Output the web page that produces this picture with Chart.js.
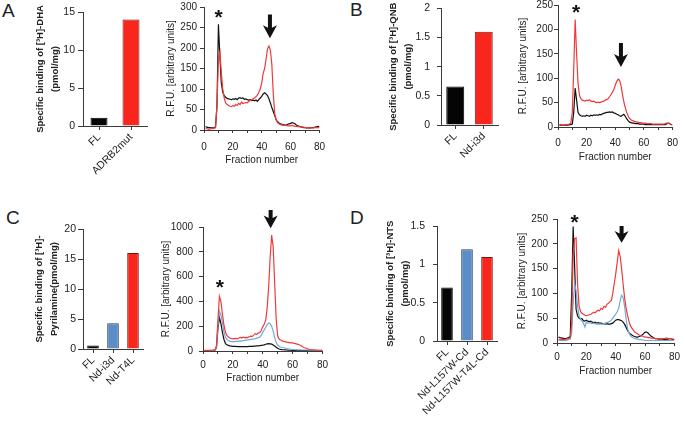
<!DOCTYPE html>
<html><head><meta charset="utf-8">
<script src="https://cdn.jsdelivr.net/npm/chart.js@4.4.1/dist/chart.umd.min.js"></script>
<style>
html,body{margin:0;padding:0;background:#fff;width:685px;height:428px;overflow:hidden;position:relative;font-family:"Liberation Sans",Arial,sans-serif}
canvas{position:absolute}
.lbl{position:absolute;font-size:19px;color:#222;line-height:1}
</style></head><body>
<div class="lbl" style="left:2px;top:1px">A</div>
<div class="lbl" style="left:350px;top:0px">B</div>
<div class="lbl" style="left:6px;top:208px">C</div>
<div class="lbl" style="left:350px;top:208px">D</div>
<canvas id="aBar"></canvas><canvas id="aLine"></canvas>
<canvas id="bBar"></canvas><canvas id="bLine"></canvas>
<canvas id="cBar"></canvas><canvas id="cLine"></canvas>
<canvas id="dBar"></canvas><canvas id="dLine"></canvas>
<script>
// ---------- DATA ----------
const barCatsA = ['FL', 'ADRB2mut'];
const barValsA = [1.1, 14];
const barCatsB = ['FL', 'Nd-i3d'];
const barValsB = [0.66, 1.6];
const barCatsC = ['FL', 'Nd-i3d', 'Nd-T4L'];
const barValsC = [0.6, 4.3, 16];
const barCatsD = ['FL', 'Nd-L157W-Cd', 'Nd-L157W-T4L-Cd'];
const barValsD = [0.7, 1.2, 1.1];

const fractions = [1,2,3,4,5,6,7,8,9,10,11,12,13,14,15,16,17,18,19,20,21,22,23,24,25,26,27,28,29,30,31,32,33,34,35,36,37,38,39,40,41,42,43,44,45,46,47,48,49,50,51,52,53,54,55,56,57,58,59,60,61,62,63,64,65,66,67,68,69,70,71,72,73,74,75,76,77,78,79,80];

const aBlack = [8,7,6,6,5,5,6,8,60,258, 180,115,92,84,80,77,76,75,74,76, 75,77,74,78,79,77,78,75,76,74, 73,74,72,73,71,73,70,74,78,82, 88,91,88,84,76,66,55,45,35,25, 20,17,15,14,13,12,12,14,15,16, 18,17,15,12,10,9,8,7,6,6, 5,5,5,5,6,6,7,8,9,7];
const aRed = [3,3,2,2,3,3,4,6,60,175, 190,140,100,78,66,62,60,58,57,60, 58,62,60,65,62,68,64,66,67,66, 70,72,73,76,78,81,85,92,100,115, 138,150,172,198,205,195,160,90,40,25, 18,15,13,12,12,11,11,10,10,10, 11,10,9,9,8,8,7,7,7,6, 6,6,5,5,5,5,6,6,5,6];

const bBlack = [4,4,4,4,4,4,4,5,5,6, 30,80,55,30,25,23,22,23,22,24, 23,22,24,23,25,24,25,24,26,25, 27,28,29,30,30,31,30,31,29,28, 26,25,23,22,24,26,22,17,13,10, 9,8,8,7,7,7,6,6,6,6, 5,5,5,5,5,5,5,5,5,5, 5,5,5,5,5,6,8,7,5,4];
const bRed = [5,5,4,4,5,5,5,6,8,30, 120,220,150,90,65,58,55,54,53,55, 54,56,53,52,53,51,50,51,50,51, 52,53,55,56,58,62,66,71,77,85, 93,98,96,86,68,52,40,30,23,18, 15,13,12,11,10,10,9,9,8,8, 8,7,7,7,7,6,6,6,6,6, 6,6,6,6,7,8,8,7,5,4];

const cBlack = [3,3,3,3,4,4,5,7,25,180, 270,220,150,95,62,50,45,42,40,38, 37,37,36,36,35,35,35,35,36,36, 37,37,38,39,40,41,42,43,45,47, 50,54,58,60,58,55,48,40,30,22, 16,13,11,10,9,8,7,6,6,5, 5,5,5,4,4,4,4,4,4,4, 4,3,3,3,3,3,3,3,3,3];
const cBlue = [4,4,4,4,5,5,6,8,30,200, 320,290,230,155,112,92,85,80,76,75, 76,78,77,80,82,80,84,86,88,90, 92,94,96,98,100,104,108,112,125,150, 170,190,212,226,220,200,160,110,70,48, 38,32,28,26,24,20,17,15,13,12, 10,10,9,9,9,8,8,8,8,8, 7,7,6,6,6,6,5,5,5,5];
const cRed = [5,5,5,5,6,6,8,10,40,250, 440,400,300,210,155,125,112,105,100,98, 100,102,98,105,110,104,112,106,110,108, 115,120,118,128,140,135,145,148,165,195, 215,250,350,520,760,935,840,550,260,120, 95,88,82,78,75,72,70,68,66,65, 62,60,56,52,46,40,32,26,22,18, 14,12,10,9,8,7,6,6,5,5];

const dBlack = [12,11,10,10,9,9,10,11,13,100, 235,155,68,55,50,48,49,45,44,46, 44,43,44,42,41,42,40,41,40,40, 39,39,38,39,38,38,39,40,43,46, 47,47,46,45,42,38,32,26,21,18, 16,14,13,12,12,13,14,16,19,22, 22,20,17,14,12,10,9,9,8,8, 8,8,7,7,8,8,9,8,7,7];
const dBlue = [5,5,5,5,5,5,6,7,8,20, 80,120,105,75,55,48,44,40,32,42, 40,41,40,39,40,39,38,38,38,38, 38,39,40,41,42,44,46,50,54,58, 63,70,85,96,92,75,50,30,20,15, 12,10,9,8,8,7,7,6,6,5, 5,5,5,5,5,5,5,5,5,5, 5,5,5,5,5,5,5,5,5,5];
const dRed = [8,8,7,7,7,8,8,9,10,40, 180,210,212,120,76,63,60,58,56,55, 56,57,58,60,62,61,64,66,65,70, 68,74,72,78,80,83,86,100,120,140, 162,186,175,150,120,92,72,56,44,35, 30,26,22,20,18,16,15,14,13,12, 12,11,11,10,10,10,9,9,9,8, 8,9,9,10,10,9,9,8,8,8];

// ---------- STYLE ----------
const FAM = '"Liberation Sans", Arial, sans-serif';
const AX = '#3a3a3a', TXT = '#222';
const C_BLACK = '#111111', C_RED = '#f03a3a', C_BLUE = '#74a9d4';
const BAR_FILL = {black:'#050505', red:'#f8261c', blue:'#5b8ec6'};
const BAR_EDGE = {black:'#000', red:'#6e1a12', blue:'#2c3c55'};

const marksPlugin = {
  id: 'marks',
  afterDraw(chart, args, opts) {
    const {ctx} = chart; const x = chart.scales.x, y = chart.scales.y;
    ctx.save();
    ctx.fillStyle = '#111';
    if (opts.star) {
      const px = x.getPixelForValue(opts.star[0]), py = y.getPixelForValue(opts.star[1]);
      ctx.font = 'bold 21px ' + FAM; ctx.textAlign = 'center'; ctx.textBaseline = 'alphabetic';
      ctx.fillText('*', px, py + 12);
    }
    if (opts.arrow) {
      const px = x.getPixelForValue(opts.arrow[0]);
      const top = y.getPixelForValue(opts.arrow[1]), bot = y.getPixelForValue(opts.arrow[2]);
      const h = bot - top, hh = Math.min(13, h * 0.7), hw = 14, sw = 4, notch = 2.5;
      ctx.beginPath();
      ctx.moveTo(px - sw/2, top); ctx.lineTo(px + sw/2, top);
      ctx.lineTo(px + sw/2, bot - hh + notch); ctx.lineTo(px + hw/2, bot - hh);
      ctx.lineTo(px, bot); ctx.lineTo(px - hw/2, bot - hh);
      ctx.lineTo(px - sw/2, bot - hh + notch); ctx.closePath(); ctx.fill();
    }
    ctx.restore();
  }
};

function place(id, box) {
  const cv = document.getElementById(id);
  const left = box.L - box.yW, top = box.T - box.padT;
  cv.width = box.R + box.padR - left; cv.height = box.B + box.xH - top;
  cv.style.left = left + 'px'; cv.style.top = top + 'px';
  return cv;
}

const plain = v => String(v);

function barChart(id, box, cats, vals, colors, yMax, yStep, title, barPct) {
  const cv = place(id, box);
  new Chart(cv, {
    type: 'bar',
    data: { labels: cats, datasets: [{ data: vals,
      backgroundColor: colors.map(c => BAR_FILL[c]), borderColor: colors.map(c => BAR_EDGE[c]),
      borderWidth: 1, barPercentage: barPct, categoryPercentage: 1 }] },
    options: {
      responsive: false, animation: false, devicePixelRatio: 1,
      layout: { padding: { top: box.padT, right: box.padR, left: 0, bottom: 0 } },
      plugins: { legend: { display: false }, tooltip: { enabled: false } },
      scales: {
        x: { offset: true,
          grid: { offset: false, drawOnChartArea: false, drawTicks: true, tickLength: 4, color: AX },
          border: { color: AX, width: 1 },
          ticks: { minRotation: 45, maxRotation: 45, autoSkip: false, padding: 1, color: TXT, font: { size: 10.5, family: FAM } },
          afterFit: s => { s.height = box.xH; } },
        y: { min: 0, max: yMax,
          grid: { drawOnChartArea: false, drawTicks: true, tickLength: box.tl, color: AX },
          border: { color: AX, width: 1 },
          ticks: { stepSize: yStep, padding: box.tp, color: TXT, font: { size: 10.5, family: FAM }, callback: plain },
          title: { display: true, text: title, color: TXT, padding: { top: 4.4, bottom: 0 },
            font: { size: 9.5, weight: 'bold', family: FAM, lineHeight: 1.62 } },
          afterFit: s => { s.width = box.yW; } }
      }
    }
  });
}

function lineChart(id, box, series, yMax, yStep, marks) {
  const cv = place(id, box);
  new Chart(cv, {
    type: 'line',
    data: { datasets: series.map(s => ({ data: fractions.map((f, i) => ({ x: f, y: s.vals[i] })),
      borderColor: s.color, borderWidth: 1.2, pointRadius: 0, tension: 0, fill: false })) },
    options: {
      responsive: false, animation: false, devicePixelRatio: 1,
      layout: { padding: { top: box.padT, right: box.padR, left: 0, bottom: 0 } },
      plugins: { legend: { display: false }, tooltip: { enabled: false }, marks: marks },
      scales: {
        x: { type: 'linear', min: 0, max: 80,
          grid: { drawOnChartArea: false, drawTicks: true, tickLength: 3, color: AX },
          border: { color: AX, width: 1 },
          ticks: { stepSize: 10, autoSkip: false, maxRotation: 0, padding: box.xp, color: TXT,
            font: { size: 10, family: FAM }, callback: v => (v % 20 === 0 ? String(v) : '') },
          title: { display: true, text: 'Fraction number', color: TXT, padding: { top: 0, bottom: 2 },
            font: { size: 10, family: FAM, lineHeight: 1.2 } },
          afterFit: s => { s.height = box.xH; } },
        y: { min: 0, max: yMax,
          grid: { drawOnChartArea: false, drawTicks: true, tickLength: 4, color: AX },
          border: { color: AX, width: 1 },
          ticks: { stepSize: yStep, padding: box.tp, color: TXT, font: { size: 10, family: FAM }, callback: plain },
          title: { display: true, text: 'R.F.U. [arbitrary units]', color: TXT, padding: { top: 5, bottom: 0 },
            font: { size: 10, family: FAM, lineHeight: 1.2 } },
          afterFit: s => { s.width = box.yW; } }
      }
    },
    plugins: [marksPlugin]
  });
}

// ---------- PANELS ----------
barChart('aBar', {L:83, T:12, R:147, B:126, yW:55, padT:10, padR:6, xH:62, tl:5, tp:3},
  barCatsA, barValsA, ['black','red'], 15, 5, ['Specific binding of [³H]-DHA', '(pmol/mg)'], 0.53);
barChart('bBar', {L:441, T:5, R:498, B:125, yW:60, padT:10, padR:6, xH:62, tl:4, tp:7},
  barCatsB, barValsB, ['black','red'], 2, 0.5, ['Specific binding of [³H]-QNB', '(pmol/mg)'], 0.63);
barChart('cBar', {L:83, T:229, R:143, B:349, yW:56, padT:10, padR:6, xH:79, tl:5, tp:2},
  barCatsC, barValsC, ['black','blue','red'], 20, 5, ['Specific binding of [³H]-', 'Pyrilamine(pmol/mg)'], 0.58);
barChart('dBar', {L:437, T:222, R:497, B:341, yW:59, padT:10, padR:6, xH:87, tl:4, tp:8},
  barCatsD, barValsD, ['black','blue','red'], 1.5, 0.5, ['Specific binding of [³H]-NTS', '(pmol/mg)'], 0.58);

lineChart('aLine', {L:204, T:7, R:323, B:130, yW:44, padT:10, padR:10, xH:38, tp:3, xp:8},
  [{vals: aRed, color: C_RED}, {vals: aBlack, color: C_BLACK}], 300, 50,
  {star: [10.1, 288], arrow: [45.7, 282, 224]});
lineChart('bLine', {L:558, T:5, R:678, B:127, yW:46, padT:10, padR:7, xH:38, tp:1, xp:7},
  [{vals: bRed, color: C_RED}, {vals: bBlack, color: C_BLACK}], 250, 50,
  {star: [12.7, 246], arrow: [44, 172, 123]});
lineChart('cLine', {L:203, T:227, R:323, B:351, yW:48, padT:20, padR:10, xH:35, tp:6, xp:5},
  [{vals: cRed, color: C_RED}, {vals: cBlue, color: C_BLUE}, {vals: cBlack, color: C_BLACK}], 1000, 200,
  {star: [11.3, 556], arrow: [45.3, 1137, 990]});
lineChart('dLine', {L:557, T:219, R:677, B:343, yW:46, padT:12, padR:8, xH:36, tp:5, xp:5},
  [{vals: dRed, color: C_RED}, {vals: dBlue, color: C_BLUE}, {vals: dBlack, color: C_BLACK}], 250, 50,
  {star: [12, 254], arrow: [44, 236, 202]});
</script>
</body></html>
